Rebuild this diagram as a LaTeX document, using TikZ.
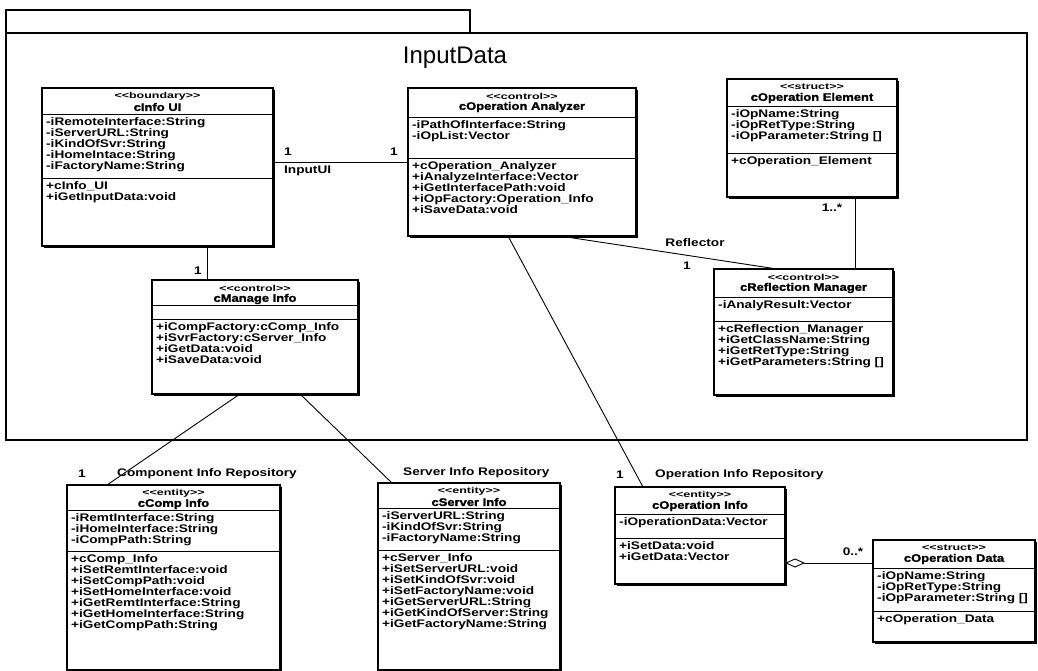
\documentclass[tikz,border=0pt]{standalone}
\usepackage{fontspec}
\setmainfont{Liberation Sans}
\newfontfamily\memberfont{Liberation Sans}[FakeStretch=1.24]
\newfontfamily\namefont{Liberation Sans}[FakeStretch=1.18,FakeBold=1.5]
\newfontfamily\stereofont{Liberation Sans}[FakeStretch=1.45]
\usetikzlibrary{arrows.meta,shadows}

\tikzset{
  classbox/.style={draw, line width=1.1pt, fill=white, rectangle, anchor=north west,
    inner sep=0pt, outer sep=0pt,
    drop shadow={shadow xshift=1.6pt, shadow yshift=-1.6pt, opacity=1, fill=black}},
  divider/.style={line width=0.9pt},
  stereotype/.style={font=\stereofont\bfseries\fontsize{8.6}{9}\selectfont, inner sep=0pt},
  classname/.style={font=\namefont\bfseries\fontsize{11}{11}\selectfont, inner sep=0pt},
  members/.style={font=\memberfont\bfseries\fontsize{11}{11}\selectfont, align=left,
    anchor=north west, inner sep=0pt},
  assoc/.style={line width=0.9pt},
  role/.style={font=\memberfont\bfseries\fontsize{11}{11}\selectfont, inner sep=0pt},
  pkgframe/.style={draw, line width=2pt, rectangle, anchor=north west,
    inner sep=0pt, outer sep=0pt},
}

% #1 node name, #2 left, #3 top, #4 right, #5 first divider, #6 second divider,
% #7 bottom, #8 stereotype, #9 class name
\newcommand{\umlclass}[9]{%
  \node[classbox, minimum width={(#4-#2)*1pt}, minimum height={(#7-#3)*1pt}] (#1) at (#2,#3) {};
  \draw[divider] (#1.west |- 0,#5) -- (#1.east |- 0,#5);
  \draw[divider] (#1.west |- 0,#6) -- (#1.east |- 0,#6);
  \node[stereotype] (#1-stereo) at ({(#2+#4)/2},#3+8) {<\kern0pt<#8>\kern0pt>};
  \node[classname] (#1-name) at ({(#2+#4)/2},#3+19) {#9};
  \coordinate (#1-attr) at (#2+4,#5+3);
  \coordinate (#1-oper) at (#2+4,#6+3);
}

\begin{document}
\begin{tikzpicture}[x=1pt,y=-1pt]
\useasboundingbox (0,0) rectangle (1038,671);

% package InputData
\node[pkgframe, minimum width=464pt, minimum height=23pt] (pkgtab) at (6,10) {};
\node[pkgframe, minimum width=1021pt, minimum height=407pt] (pkg) at (6,33) {};
\node[font=\fontsize{24}{26}\selectfont, inner sep=0pt] (pkgname) at (455,58) {InputData};

% classes
\umlclass{cinfoui}{42}{88}{273}{114}{178}{246}{boundary}{cInfo UI}
\node[members] (cinfoui-attrs) at (cinfoui-attr) {-iRemoteInterface:String\\-iServerURL:String\\-iKindOfSvr:String\\-iHomeIntace:String\\-iFactoryName:String};
\node[members] (cinfoui-ops) at (cinfoui-oper) {+cInfo\_UI\\+iGetInputData:void};

\umlclass{opanalyzer}{408}{88}{636}{117}{158}{236}{control}{cOperation Analyzer}
\node[members] (opanalyzer-attrs) at (opanalyzer-attr) {-iPathOfInterface:String\\-iOpList:Vector};
\node[members] (opanalyzer-ops) at (opanalyzer-oper) {+cOperation\_Analyzer\\+iAnalyzeInterface:Vector\\+iGetInterfacePath:void\\+iOpFactory:Operation\_Info\\+iSaveData:void};

\umlclass{opelement}{727}{79}{897}{106}{153}{197}{struct}{cOperation Element}
\node[members] (opelement-attrs) at (opelement-attr) {-iOpName:String\\-iOpRetType:String\\-iOpParameter:String []};
\node[members] (opelement-ops) at (opelement-oper) {+cOperation\_Element};

\umlclass{manageinfo}{152}{280}{358}{305}{319}{394}{control}{cManage Info}
\node[members] (manageinfo-ops) at (manageinfo-oper) {+iCompFactory:cComp\_Info\\+iSvrFactory:cServer\_Info\\+iGetData:void\\+iSaveData:void};

\umlclass{reflmanager}{714}{269}{893}{297}{321}{395}{control}{cReflection Manager}
\node[members] (reflmanager-attrs) at (reflmanager-attr) {-iAnalyResult:Vector};
\node[members] (reflmanager-ops) at (reflmanager-oper) {+cReflection\_Manager\\+iGetClassName:String\\+iGetRetType:String\\+iGetParameters:String []};

\umlclass{compinfo}{67}{485}{280}{510}{551}{670}{entity}{cComp Info}
\node[members] (compinfo-attrs) at (compinfo-attr) {-iRemtInterface:String\\-iHomeInterface:String\\-iCompPath:String};
\node[members] (compinfo-ops) at (compinfo-oper) {+cComp\_Info\\+iSetRemtInterface:void\\+iSetCompPath:void\\+iSetHomeInterface:void\\+iGetRemtInterface:String\\+iGetHomeInterface:String\\+iGetCompPath:String};

\umlclass{serverinfo}{378}{483}{560}{508}{550}{670}{entity}{cServer Info}
\node[members] (serverinfo-attrs) at (serverinfo-attr) {-iServerURL:String\\-iKindOfSvr:String\\-iFactoryName:String};
\node[members] (serverinfo-ops) at (serverinfo-oper) {+cServer\_Info\\+iSetServerURL:void\\+iSetKindOfSvr:void\\+iSetFactoryName:void\\+iGetServerURL:String\\+iGetKindOfServer:String\\+iGetFactoryName:String};

\umlclass{opinfo}{615}{487}{785}{514}{538}{584}{entity}{cOperation Info}
\node[members] (opinfo-attrs) at (opinfo-attr) {-iOperationData:Vector};
\node[members] (opinfo-ops) at (opinfo-oper) {+iSetData:void\\+iGetData:Vector};

\umlclass{opdata}{873}{540}{1035}{568}{611}{642}{struct}{cOperation Data}
\node[members] (opdata-attrs) at (opdata-attr) {-iOpName:String\\-iOpRetType:String\\-iOpParameter:String []};
\node[members] (opdata-ops) at (opdata-oper) {+cOperation\_Data};

% associations
\draw[assoc] (opanalyzer.west) -- (opanalyzer.west -| cinfoui.east);
\node[role] (inputui-m1) at (288,152) {1};
\node[role] (inputui-m2) at (394,152) {1};
\node[role, anchor=west] (inputui-name) at (284,171) {InputUI};

\draw[assoc] (cinfoui.south -| 207,0) -- (manageinfo.north -| 207,0);
\node[role] (manage-m) at (198,271) {1};

\draw[assoc] (manageinfo.south -| 240,0) -- (compinfo.north -| 107,0);
\node[role] (comp-m) at (82,474) {1};
\node[role, anchor=west] (comp-name) at (117,474) {Component Info Repository};

\draw[assoc] (manageinfo.south -| 300,0) -- (serverinfo.north -| 392,0);
\node[role, anchor=west] (server-name) at (403,473) {Server Info Repository};

\draw[assoc] (opanalyzer.south -| 508,0) -- (opinfo.north -| 643,0);
\node[role] (opinfo-m) at (620,475) {1};
\node[role, anchor=west] (opinfo-name) at (655,475) {Operation Info Repository};

\draw[assoc] (opanalyzer.south -| 560,0) -- (reflmanager.north -| 777,0);
\node[role] (refl-name) at (695,243) {Reflector};
\node[role] (refl-m) at (687,266) {1};

\draw[assoc] (opelement.south -| 855,0) -- (reflmanager.north -| 855,0);
\node[role] (elem-m) at (832,208) {1..*};

\draw[assoc, {Diamond[open, length=20pt, width=9pt]}-] (opinfo.east |- 0,563) -- (opdata.west |- 0,563);
\node[role] (data-m) at (853,552) {0..*};
\end{tikzpicture}
\end{document}
